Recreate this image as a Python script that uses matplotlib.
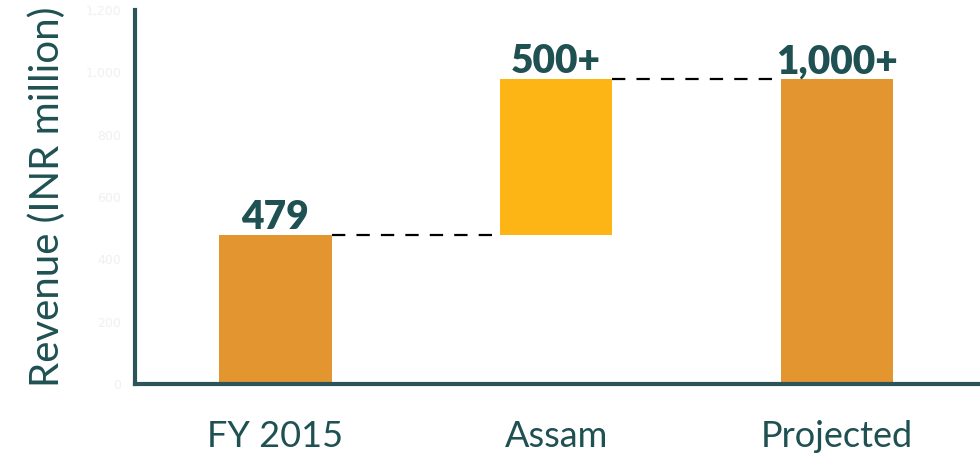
import matplotlib
matplotlib.use('Agg')
import matplotlib.pyplot as plt

# waterfall data (INR million)
categories = ['FY 2015', 'Assam', 'Projected']
steps = [479, 500]            # base revenue, then the Assam increment
value_labels = ['479', '500+', '1,000+']
y_ticks = [0, 200, 400, 600, 800, 1000, 1200]

ORANGE = '#E39530'
YELLOW = '#FDB515'
TEAL = '#1F5052'

total = steps[0] + steps[1]
heights = [steps[0], steps[1], total]
bottoms = [0, steps[0], 0]
colors = [ORANGE, YELLOW, ORANGE]

fig = plt.figure(figsize=(9.8, 4.55), dpi=100)
ax = fig.add_axes([135 / 980, 1 - 384 / 455, 845 / 980, 374 / 455])

x = list(range(len(categories)))
width = 0.4
ax.bar(x, heights, width, bottom=bottoms, color=colors, zorder=2)

# connector lines between bars
tops = [b + h for b, h in zip(bottoms, heights)]
for i in range(len(x) - 1):
    ax.plot([x[i] + width / 2, x[i + 1] - width / 2], [tops[i], tops[i]],
            color='black', lw=1.6, linestyle=(0, (6, 5)), zorder=1)

for xi, top, lab in zip(x, tops, value_labels):
    ax.text(xi, top - 4, lab, ha='center', va='bottom', fontsize=28,
            fontweight='heavy', color=TEAL, family='Lato')

ax.set_xlim(-0.5, 2.51)
ax.set_ylim(0, 1200)
ax.set_yticks(y_ticks)
ax.set_yticklabels([f'{t:,}' for t in y_ticks], fontsize=9, color='#f0f0f0')
ax.set_xticks(x)
ax.set_xticklabels(categories, fontsize=26, color=TEAL, family='Lato')
ax.tick_params(axis='both', length=0)
ax.tick_params(axis='x', pad=26)
ax.tick_params(axis='y', pad=10)

ax.set_ylabel('Revenue (INR million)', fontsize=29, color=TEAL,
              family='Lato', labelpad=14)

for side in ['top', 'right']:
    ax.spines[side].set_visible(False)
for side in ['left', 'bottom']:
    ax.spines[side].set_color('#2B5558')
    ax.spines[side].set_linewidth(3)

fig.savefig('out.png', dpi=100)
